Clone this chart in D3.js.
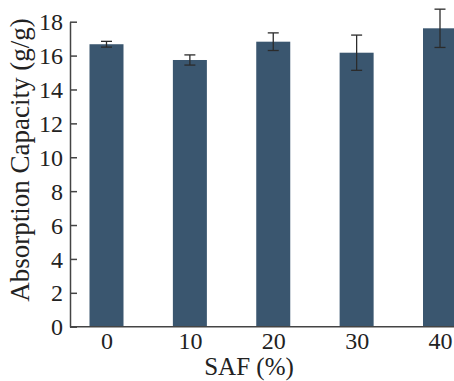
<!DOCTYPE html>
<html>
<head>
<meta charset="utf-8">
<script src="https://cdn.jsdelivr.net/npm/d3@7"></script>
<style>
  body { margin: 0; background: #fff; }
  svg { display: block; }
  text { font-family: "Liberation Serif", "Times New Roman", serif; }
</style>
</head>
<body>
<div id="chart"></div>
<script>
// data
const categories = ['0', '10', '20', '30', '40'];
const values = [16.67, 15.74, 16.82, 16.17, 17.61];
const errors = [0.17, 0.30, 0.52, 1.04, 1.13];
const yTicks = [0, 2, 4, 6, 8, 10, 12, 14, 16, 18];

const W = 454, H = 381;
const margin = {top: 21.7, right: 0, bottom: 54.3, left: 70};
const height = H - margin.top - margin.bottom;

const svg = d3.select('#chart').append('svg')
  .attr('width', W)
  .attr('height', H);

const g = svg.append('g')
  .attr('transform', 'translate(' + margin.left + ',' + margin.top + ')');

const x = d3.scalePoint()
  .domain(categories)
  .range([106.5 - margin.left, 440 - margin.left]);

const y = d3.scaleLinear()
  .domain([0, 18])
  .range([height, 0]);

const barW = 34;

// bars
g.selectAll('.bar')
  .data(values)
  .enter().append('rect')
  .attr('class', 'bar')
  .attr('x', (d, i) => x(categories[i]) - barW / 2)
  .attr('width', barW)
  .attr('y', d => y(d))
  .attr('height', d => height - y(d))
  .style('fill', '#3a566f');

// error bars
const eb = g.selectAll('.err')
  .data(values)
  .enter().append('g')
  .attr('class', 'err')
  .attr('stroke', '#2b2b2b')
  .attr('stroke-width', 1.3);

eb.append('line')
  .attr('x1', (d, i) => x(categories[i]))
  .attr('x2', (d, i) => x(categories[i]))
  .attr('y1', (d, i) => y(d + errors[i]))
  .attr('y2', (d, i) => y(d - errors[i]));

eb.append('line')
  .attr('x1', (d, i) => x(categories[i]) - 5.5)
  .attr('x2', (d, i) => x(categories[i]) + 5.5)
  .attr('y1', (d, i) => y(d + errors[i]))
  .attr('y2', (d, i) => y(d + errors[i]));

eb.append('line')
  .attr('x1', (d, i) => x(categories[i]) - 5.5)
  .attr('x2', (d, i) => x(categories[i]) + 5.5)
  .attr('y1', (d, i) => y(d - errors[i]))
  .attr('y2', (d, i) => y(d - errors[i]));

// y axis, ticks pointing in
const yAxis = d3.axisLeft(y)
  .tickValues(yTicks)
  .tickSizeInner(-7)
  .tickSizeOuter(0)
  .tickPadding(7);

const ya = g.append('g')
  .attr('class', 'y axis')
  .call(yAxis)
  .attr('font-family', null);
ya.select('.domain').attr('stroke', '#444').attr('stroke-width', 1.5);
ya.selectAll('.tick line').attr('stroke', '#444').attr('stroke-width', 1.5);
ya.selectAll('.tick text')
  .style('font-size', '24px')
  .attr('fill', '#222')
  .attr('dy', '0.34em');

// x axis, no ticks
const xAxis = d3.axisBottom(x)
  .tickSize(0)
  .tickPadding(5);

const xa = g.append('g')
  .attr('class', 'x axis')
  .attr('transform', 'translate(0,' + height + ')')
  .call(xAxis)
  .attr('font-family', null);
xa.select('.domain')
  .attr('d', 'M0,0H' + (W - margin.left))
  .attr('stroke', '#444').attr('stroke-width', 1.5);
xa.selectAll('.tick text')
  .style('font-size', '24px')
  .attr('fill', '#222');

// axis titles
svg.append('text')
  .attr('x', 249)
  .attr('y', 375)
  .attr('text-anchor', 'middle')
  .style('font-size', '25px')
  .style('fill', '#222')
  .text('SAF (%)');

svg.append('text')
  .attr('transform', 'translate(29,160) rotate(-90)')
  .attr('text-anchor', 'middle')
  .style('font-size', '27px')
  .style('fill', '#222')
  .text('Absorption Capacity (g/g)');
</script>
</body>
</html>
